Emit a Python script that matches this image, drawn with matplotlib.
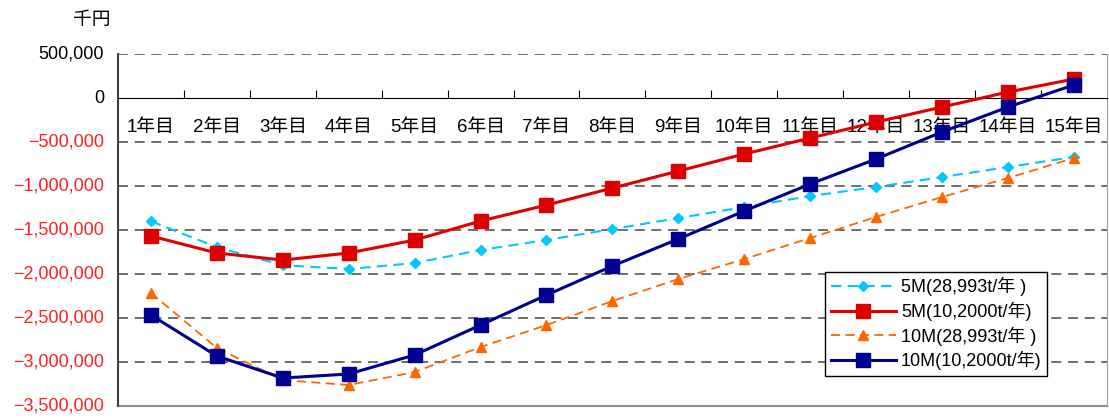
import matplotlib
matplotlib.use('Agg')
import matplotlib.pyplot as plt
from matplotlib.ticker import FuncFormatter, FixedLocator, NullFormatter

plt.rcParams['font.family'] = ['Liberation Sans', 'Noto Sans CJK JP', 'DejaVu Sans']

years = ['%d年目' % i for i in range(1, 16)]

s5m_a = [-1400000, -1695000, -1900000, -1943000, -1875000, -1727000, -1614000, -1489000,
         -1364000, -1239000, -1114000, -1011000, -898000, -784000, -670000]
s5m_b = [-1568000, -1761000, -1841000, -1761000, -1614000, -1398000, -1216000, -1023000,
         -830000, -636000, -455000, -273000, -102000, 68000, 216000]
s10m_a = [-2216000, -2841000, -3205000, -3261000, -3114000, -2830000, -2580000, -2307000,
          -2057000, -1830000, -1591000, -1352000, -1125000, -909000, -682000]
s10m_b = [-2466000, -2932000, -3182000, -3136000, -2920000, -2580000, -2239000, -1909000,
          -1602000, -1284000, -977000, -693000, -386000, -102000, 148000]

labels = ['5M(28,993t/年 )', '5M(10,2000t/年)', '10M(28,993t/年 )', '10M(10,2000t/年)']

fig = plt.figure(figsize=(11.09, 4.19), dpi=100)
ax = fig.add_axes([0.1064, 0.031, 0.8916, 0.840])

x = range(len(years))
ax.plot(x, s5m_a, color='#00C8FF', lw=1.5, ls=(0, (5, 3)), marker='D', ms=5.5,
        label=labels[0], zorder=3)
ax.plot(x, s5m_b, color='#E00000', lw=2.2, marker='s', ms=10, mfc='#DD0000', mec='#DD0000',
        label=labels[1], zorder=4)
ax.plot(x, s10m_a, color='#FF6600', lw=1.3, ls=(0, (5, 3)), marker='^', ms=7,
        label=labels[2], zorder=3)
ax.plot(x, s10m_b, color='#000090', lw=2.2, marker='s', ms=10,
        label=labels[3], zorder=5)

ax.set_xlim(-0.5, 14.5)
ax.set_ylim(-3500000, 500000)

# y labels: negatives in red
yt = list(range(-3500000, 500001, 500000))
ax.set_yticks(yt)
ax.yaxis.set_major_formatter(NullFormatter())
ax.tick_params(axis='y', length=0)
for v in yt:
    s = '{:,.0f}'.format(abs(v))
    if v < 0:
        s = '\u2212' + s
    ax.text(-0.014, v, s, transform=ax.get_yaxis_transform(), ha='right', va='center',
            fontsize=13, color='#FF2020' if v < 0 else 'black')
    if v != 0:
        ax.axhline(v, color='#555555', lw=1.2, ls=(0, (6, 4)), zorder=1)

# category axis sits on the zero line
ax.spines['bottom'].set_position(('data', 0))
ax.spines['bottom'].set_color('black')
ax.xaxis.set_major_locator(FixedLocator([i + 0.5 for i in range(14)]))
ax.xaxis.set_major_formatter(FuncFormatter(lambda v, p: ''))
ax.xaxis.set_minor_locator(FixedLocator(list(x)))
ax.set_xticklabels(years, minor=True)
ax.tick_params(axis='x', which='major', direction='in', length=6, color='black')
ax.tick_params(axis='x', which='minor', length=0, labelsize=13.5, pad=15)

ax.spines['top'].set_visible(False)
ax.spines['left'].set_color('#404040')
ax.spines['left'].set_linewidth(1.5)
ax.spines['right'].set_color('#A0A0A0')
ax.axhline(-3500000, color='#909090', lw=1.5, zorder=2, clip_on=False)

fig.text(0.083, 0.95, '千円', fontsize=13.5, ha='center', va='center')

leg = ax.legend(loc='lower left', bbox_to_anchor=(0.706, 0.06), fontsize=13,
                fancybox=False, framealpha=1, edgecolor='black', handlelength=3.6,
                borderpad=0.3, labelspacing=0.3, handletextpad=0.3)
leg.get_frame().set_linewidth(1.0)
leg.set_zorder(6)

fig.savefig('out.png', dpi=100)
